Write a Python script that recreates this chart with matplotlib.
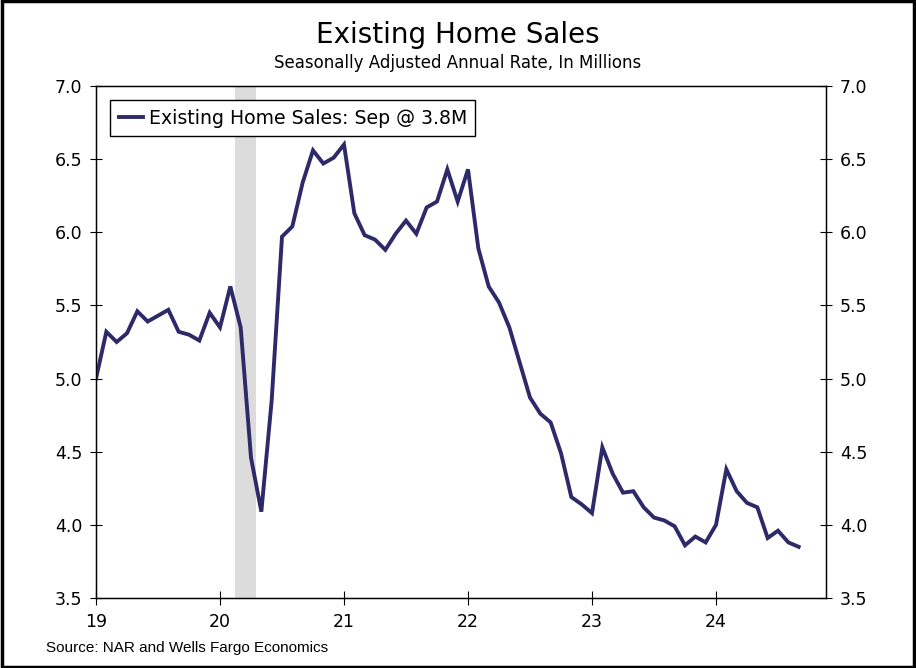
import numpy as np
import matplotlib.pyplot as plt
from matplotlib.patches import Rectangle

# monthly, Jan 2019 .. Sep 2024, millions SAAR
sales = [5.00, 5.32, 5.25, 5.31, 5.46, 5.39, 5.43, 5.47, 5.32, 5.30, 5.26, 5.45,
         5.35, 5.63, 5.35, 4.46, 4.09, 4.85, 5.97, 6.04, 6.34, 6.56, 6.47, 6.51,
         6.60, 6.13, 5.98, 5.95, 5.88, 5.99, 6.08, 5.99, 6.17, 6.21, 6.43, 6.21,
         6.43, 5.89, 5.63, 5.52, 5.35, 5.11, 4.87, 4.76, 4.70, 4.49, 4.19, 4.14,
         4.08, 4.53, 4.35, 4.22, 4.23, 4.12, 4.05, 4.03, 3.99, 3.86, 3.92, 3.88,
         4.00, 4.38, 4.23, 4.15, 4.12, 3.91, 3.96, 3.88, 3.85]
years = [2019, 2020, 2021, 2022, 2023, 2024]
year_labels = ["19", "20", "21", "22", "23", "24"]
yticks = [3.5, 4.0, 4.5, 5.0, 5.5, 6.0, 6.5, 7.0]
recession = (2020.12, 2020.29)

x = 2019 + np.arange(len(sales)) / 12.0
line_col = "#2d2a69"

fig = plt.figure(figsize=(9.16, 6.68), dpi=100)
ax = fig.add_axes([96/916, 1 - 598/668, 730/916, 512/668])

ax.axvspan(recession[0], recession[1], color="#dcdcdc", lw=0, zorder=0)
ax.plot(x, sales, color=line_col, lw=2.8, solid_joinstyle="miter",
        label="Existing Home Sales: Sep @ 3.8M", zorder=3)

ax.set_xlim(2019, 2019 + 730/124)
ax.set_ylim(3.5, 7.0)
ax.set_xticks(years)
ax.set_xticklabels(year_labels)
ax.set_yticks(yticks)
ax.set_yticklabels(["%.1f" % v for v in yticks])
ax.tick_params(axis="y", direction="inout", length=8, labelsize=12.5, pad=6)
ax.tick_params(axis="x", direction="inout", length=10, labelsize=12.5, pad=6)
for s in ax.spines.values():
    s.set_linewidth(1.0)

ax2 = ax.twinx()
ax2.set_ylim(3.5, 7.0)
ax2.set_yticks(yticks)
ax2.set_yticklabels(["%.1f" % v for v in yticks])
ax2.tick_params(axis="y", direction="inout", length=8, labelsize=12.5, pad=6)

leg = ax.legend(loc="upper left", bbox_to_anchor=(14/730, 1 - 14/512),
                borderaxespad=0, fancybox=False, edgecolor="black", framealpha=1,
                handlelength=1.3, handletextpad=0.3, borderpad=0.45,
                fontsize=13.6)
leg.get_frame().set_linewidth(1.0)

fig.text(0.5, 1 - 35/668, "Existing Home Sales", ha="center", va="center",
         fontsize=20)
fig.text(0.5, 1 - 63/668, "Seasonally Adjusted Annual Rate, In Millions",
         ha="center", va="center", fontsize=12)
fig.text(46/916, 1 - 648/668, "Source: NAR and Wells Fargo Economics",
         ha="left", va="center", fontsize=11, family="Liberation Sans")

fig.patches.append(Rectangle((0.002, 0.002), 0.996, 0.996, transform=fig.transFigure,
                             fill=False, edgecolor="black", lw=2.5))

fig.savefig("out.png", dpi=100)
